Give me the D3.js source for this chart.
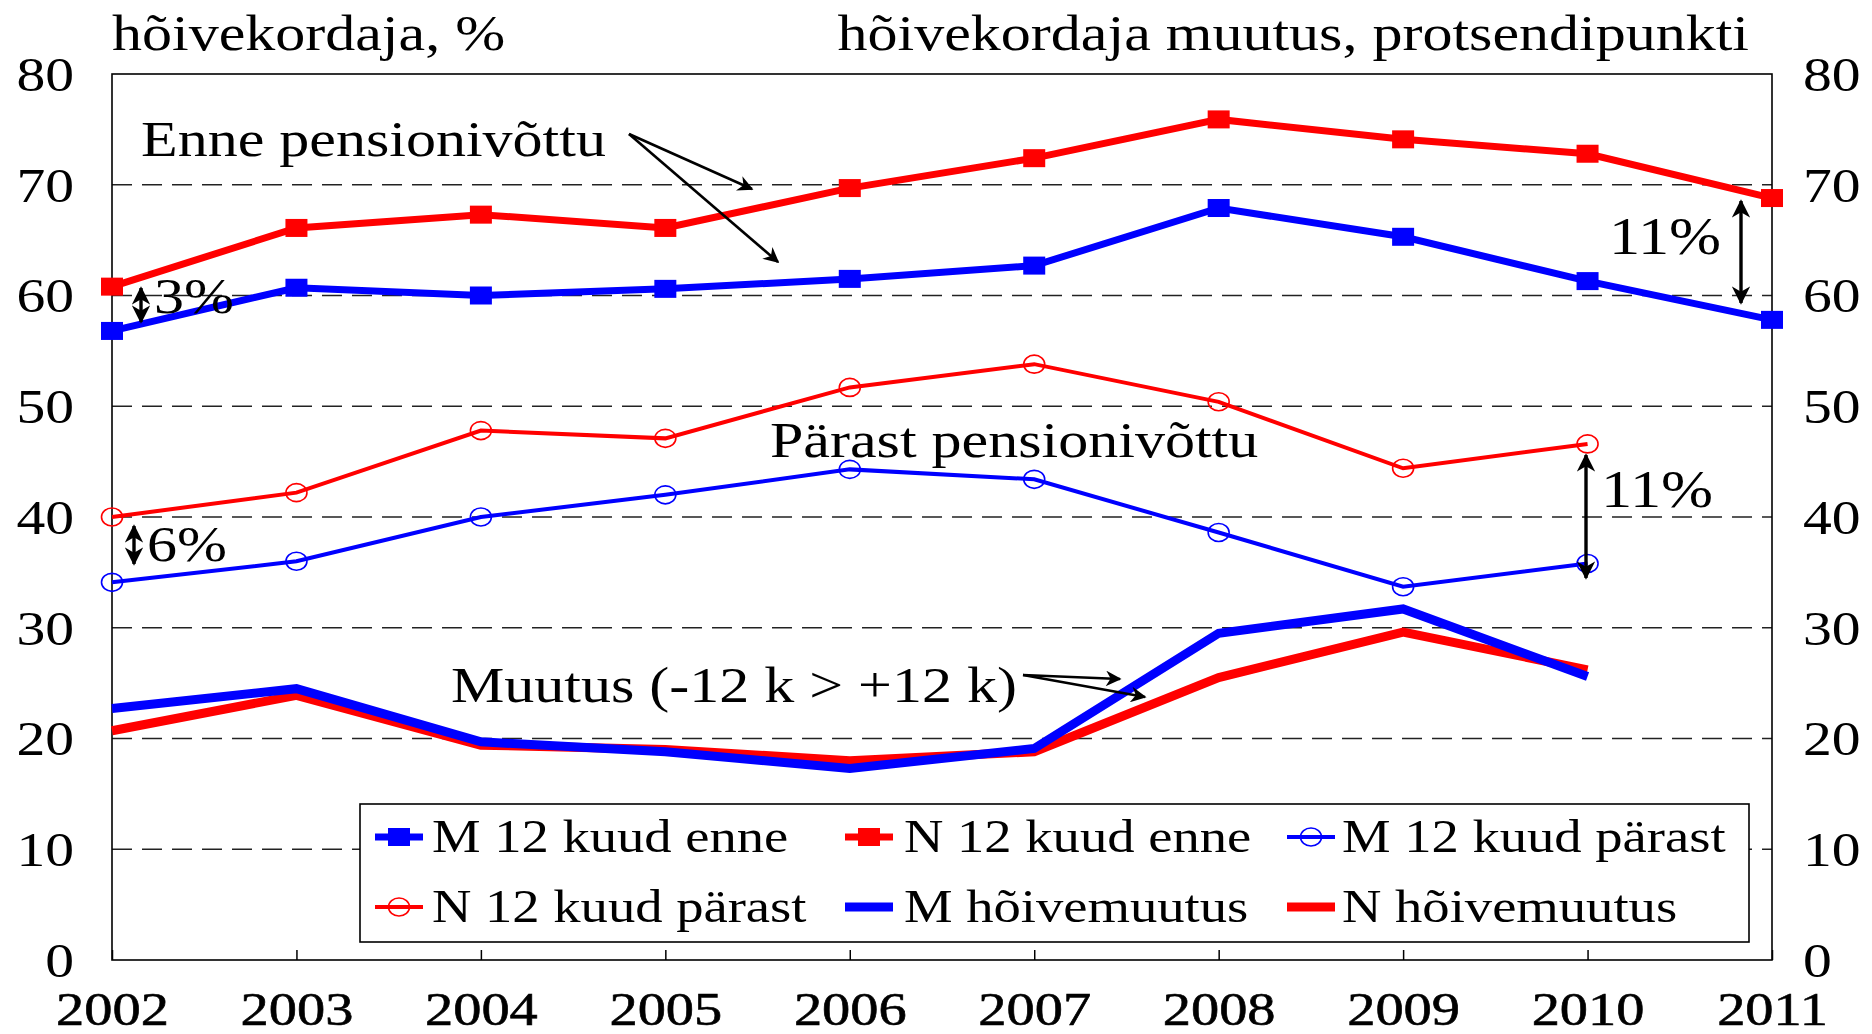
<!DOCTYPE html>
<html>
<head>
<meta charset="utf-8">
<script src="https://cdn.jsdelivr.net/npm/d3@7"></script>
<style>
  html, body { margin: 0; padding: 0; background: #fff; }
  svg { display: block; }
  text { font-family: "Liberation Serif", "Times New Roman", serif; fill: #000; }
</style>
</head>
<body>
<svg id="chart" width="1872" height="1034"></svg>
<script>
// ---------------- data ----------------
const years = [2002, 2003, 2004, 2005, 2006, 2007, 2008, 2009, 2010, 2011];
const yTicks = [0, 10, 20, 30, 40, 50, 60, 70, 80];
const gridTicks = [10, 20, 30, 40, 50, 60, 70];

const mEnne   = [56.8, 60.7, 60.0, 60.6, 61.5, 62.7, 67.9, 65.3, 61.3, 57.8];
const nEnne   = [60.8, 66.1, 67.3, 66.1, 69.7, 72.4, 75.9, 74.1, 72.8, 68.8];
const mParast = [34.1, 36.0, 40.0, 42.0, 44.3, 43.4, 38.6, 33.7, 35.8, null];
const nParast = [40.0, 42.2, 47.8, 47.1, 51.7, 53.8, 50.4, 44.4, 46.6, null];
const mMuutus = [22.7, 24.5, 19.7, 18.8, 17.3, 19.1, 29.5, 31.7, 25.6, null];
const nMuutus = [20.7, 23.9, 19.4, 19.0, 18.0, 18.8, 25.5, 29.6, 26.2, null];

const seriesNames = ["M 12 kuud enne", "N 12 kuud enne", "M 12 kuud pärast",
                     "N 12 kuud pärast", "M hõivemuutus", "N hõivemuutus"];

const leftTitle = "hõivekordaja, %";
const rightTitle = "hõivekordaja muutus, protsendipunkti";

// ---------------- setup ----------------
const SX = 1.2; // horizontal text stretch of the original
const svg = d3.select("#chart");
const L = 112, R = 1772, T = 74, B = 960;
const x = d3.scaleLinear().domain([2002, 2011]).range([L, R]);
const y = d3.scaleLinear().domain([0, 80]).range([B, T]);
const RED = "#ff0000", BLUE = "#0000ff";

function txt(g, px, py, s, size, anchor) {
  return g.append("text")
    .attr("transform", `translate(${px},${py}) scale(${SX},1)`)
    .attr("font-size", size)
    .attr("text-anchor", anchor || "start")
    .text(s);
}

const defs = svg.append("defs");
defs.append("marker").attr("id", "ah")
  .attr("viewBox", "0 0 10 10").attr("refX", 9).attr("refY", 5)
  .attr("markerWidth", 7).attr("markerHeight", 6)
  .attr("markerUnits", "strokeWidth")
  .attr("orient", "auto-start-reverse")
  .append("path").attr("d", "M0,0 L10,5 L0,10 L3,5 Z").attr("fill", "#000");
defs.append("marker").attr("id", "ah2")
  .attr("viewBox", "0 0 10 10").attr("refX", 9).attr("refY", 5)
  .attr("markerWidth", 6).attr("markerHeight", 5.5)
  .attr("markerUnits", "strokeWidth")
  .attr("orient", "auto-start-reverse")
  .append("path").attr("d", "M0,0 L10,5 L0,10 L3,5 Z").attr("fill", "#000");

// gridlines
svg.append("g").selectAll("line").data(gridTicks).join("line")
  .attr("x1", L).attr("x2", R)
  .attr("y1", d => y(d)).attr("y2", d => y(d))
  .attr("stroke", "#222").attr("stroke-width", 1.6)
  .attr("stroke-dasharray", "20,10");

// axes
const gl = svg.append("g").attr("transform", `translate(${L},0)`)
  .call(d3.axisLeft(y).tickValues(yTicks).tickSize(0).tickPadding(0));
gl.select(".domain").remove();
gl.selectAll("text").attr("x", -38 / SX).attr("dy", "0.34em")
  .attr("transform", `scale(${SX},1)`)
  .attr("font-size", 48).attr("font-family", "Liberation Serif").attr("fill", "#000");

const gr = svg.append("g").attr("transform", `translate(${R},0)`)
  .call(d3.axisRight(y).tickValues(yTicks).tickSize(0).tickPadding(0));
gr.select(".domain").remove();
gr.selectAll("text").attr("x", 31 / SX).attr("dy", "0.34em")
  .attr("transform", `scale(${SX},1)`)
  .attr("font-size", 48).attr("font-family", "Liberation Serif").attr("fill", "#000");

const gb = svg.append("g").attr("transform", `translate(0,${B})`)
  .call(d3.axisBottom(x).tickValues(years).tickFormat(d3.format("d")).tickSizeInner(-10).tickSizeOuter(0));
gb.select(".domain").remove();
gb.selectAll(".tick line").attr("stroke", "#000").attr("stroke-width", 1.5);
gb.selectAll("text").attr("y", 65).attr("dy", 0)
  .attr("transform", `scale(${SX},1)`)
  .attr("font-size", 47).attr("font-family", "Liberation Serif").attr("fill", "#000")
  .attr("stroke", "#000").attr("stroke-width", 0.6);

// plot frame
svg.append("rect").attr("x", L).attr("y", T).attr("width", R - L).attr("height", B - T)
  .attr("fill", "none").attr("stroke", "#000").attr("stroke-width", 1.6);

// titles
txt(svg, L, 50, leftTitle, 50, "start");
txt(svg, 1749, 50, rightTitle, 50, "end");

// ---------------- series ----------------
const line = d3.line().defined(d => d.v != null).x(d => x(d.yr)).y(d => y(d.v));
function pts(arr) { return years.map((yr, i) => ({ yr, v: arr[i] })).filter(d => d.v != null); }

const series = [
  { data: mEnne, color: BLUE, w: 7, marker: "sq" },
  { data: nEnne, color: RED, w: 7, marker: "sq" },
  { data: mParast, color: BLUE, w: 4, marker: "ci" },
  { data: nParast, color: RED, w: 4, marker: "ci" },
  { data: mMuutus, color: BLUE, w: 9, marker: null },
  { data: nMuutus, color: RED, w: 9, marker: null }
];
const drawOrder = [0, 1, 2, 3, 5, 4];

drawOrder.forEach(k => {
  const s = series[k];
  const p = pts(s.data);
  svg.append("path").datum(p).attr("d", line)
    .attr("fill", "none").attr("stroke", s.color).attr("stroke-width", s.w)
    .attr("stroke-linejoin", "miter");
  if (s.marker === "sq") {
    svg.append("g").selectAll("rect").data(p).join("rect")
      .attr("x", d => x(d.yr) - 11).attr("y", d => y(d.v) - 9)
      .attr("width", 22).attr("height", 18).attr("fill", s.color);
  } else if (s.marker === "ci") {
    svg.append("g").selectAll("ellipse").data(p).join("ellipse")
      .attr("cx", d => x(d.yr)).attr("cy", d => y(d.v))
      .attr("rx", 10.5).attr("ry", 9)
      .attr("fill", "none").attr("stroke", s.color).attr("stroke-width", 1.6);
  }
});

// ---------------- annotations ----------------
const ann = svg.append("g");
txt(ann, 141, 156, "Enne pensionivõttu", 50);
txt(ann, 770, 457, "Pärast pensionivõttu", 50);
txt(ann, 451, 702, "Muutus (-12 k > +12 k)", 50);
txt(ann, 154, 313, "3%", 50);
txt(ann, 147, 561, "6%", 50);
txt(ann, 1609, 254, "11%", 52);
txt(ann, 1601, 507, "11%", 52);

function arrow(x1, y1, x2, y2, both, w) {
  const l = ann.append("line").attr("x1", x1).attr("y1", y1).attr("x2", x2).attr("y2", y2)
    .attr("stroke", "#000").attr("stroke-width", w || 2.6)
    .attr("marker-end", both ? "url(#ah2)" : "url(#ah)");
  if (both) l.attr("marker-start", "url(#ah2)");
}
arrow(629, 134, 752, 189);
arrow(629, 134, 778, 262);
arrow(1023, 675, 1120, 679);
arrow(1023, 675, 1145, 697);
arrow(141, 288, 141, 322, true, 3.4);
arrow(134, 526, 134, 564, true, 3.4);
arrow(1741, 201, 1741, 303, true, 3.4);
arrow(1586, 455, 1586, 578, true, 3.4);

// ---------------- legend ----------------
const lg = svg.append("g");
lg.append("rect").attr("x", 360).attr("y", 804).attr("width", 1389).attr("height", 138)
  .attr("fill", "#fff").attr("stroke", "#000").attr("stroke-width", 1.6);
const colSym = [375, 845, 1287], colTxt = [432, 904, 1342];
const rowMid = [837, 907], rowBase = [852, 922];
series.forEach((s, i) => {
  const c = i % 3, r = Math.floor(i / 3);
  const x0 = colSym[c], ym = rowMid[r];
  lg.append("line").attr("x1", x0).attr("x2", x0 + 48).attr("y1", ym).attr("y2", ym)
    .attr("stroke", s.color).attr("stroke-width", s.w);
  if (s.marker === "sq") {
    lg.append("rect").attr("x", x0 + 13).attr("y", ym - 9).attr("width", 22).attr("height", 18).attr("fill", s.color);
  } else if (s.marker === "ci") {
    lg.append("ellipse").attr("cx", x0 + 24).attr("cy", ym).attr("rx", 10.5).attr("ry", 9)
      .attr("fill", "none").attr("stroke", s.color).attr("stroke-width", 1.6);
  }
  txt(lg, colTxt[c], rowBase[r], seriesNames[i], 45.5);
});
</script>
</body>
</html>
